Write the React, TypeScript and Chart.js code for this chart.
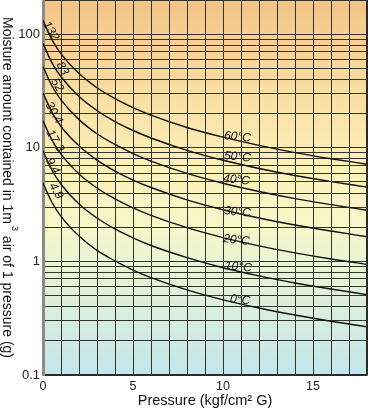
import React, { useEffect, useRef } from "react";
import { Chart, registerables } from "chart.js";

Chart.register(...registerables);

// ---- data ----
const pressure = [0, 0.5, 1, 2, 3, 4, 5, 6, 8, 10, 12, 14, 16, 18];
const t60 = [132, 89, 67.1, 45.0, 33.8, 27.1, 22.6, 19.4, 15.1, 12.4, 10.5, 9.07, 8.01, 7.17];
const t50 = [83, 55.9, 42.2, 28.3, 21.3, 17.0, 14.2, 12.2, 9.5, 7.77, 6.58, 5.7, 5.04, 4.51];
const t40 = [52, 35.0, 26.4, 17.7, 13.3, 10.7, 8.9, 7.64, 5.95, 4.87, 4.12, 3.57, 3.16, 2.82];
const t30 = [30.4, 20.5, 15.4, 10.4, 7.79, 6.24, 5.2, 4.47, 3.48, 2.85, 2.41, 2.09, 1.85, 1.65];
const t20 = [17.3, 11.7, 8.79, 5.89, 4.43, 3.55, 2.96, 2.54, 1.98, 1.62, 1.37, 1.19, 1.05, 0.94];
const t10 = [9.4, 6.34, 4.78, 3.2, 2.41, 1.93, 1.61, 1.38, 1.08, 0.88, 0.745, 0.646, 0.571, 0.51];
const t0 = [4.9, 3.3, 2.49, 1.67, 1.25, 1.01, 0.839, 0.72, 0.561, 0.459, 0.389, 0.337, 0.297, 0.266];
const series = [t60, t50, t40, t30, t20, t10, t0];
const seriesNames = ["60°C", "50°C", "40°C", "30°C", "20°C", "10°C", "0°C"];
const startValueLabels = ["132", "83", "52", "30.4", "17.3", "9.4", "4.9"];

// label anchors (data coordinates)
const nameLabelX = [10.8, 10.8, 10.75, 10.8, 10.75, 10.85, 10.95];
const nameLabelY = [12.45, 8.3, 5.21, 2.72, 1.54, 0.893, 0.457];
const startLabelX = [0.44, 1.08, 0.78, 0.61, 0.67, 0.53, 0.72];
const startLabelY = [106.7, 49.9, 35.7, 20.3, 11.5, 6.92, 4.17];

const xGrid = [0, 1, 2, 3, 4, 5, 6, 7, 8, 9, 10, 11, 12, 13, 14, 15, 16, 17, 18];
const xTickLabels = [0, 5, 10, 15];
const yGrid = [
  0.1, 0.2, 0.3, 0.4, 0.5, 0.6, 0.7, 0.8, 0.9,
  1, 2, 3, 4, 5, 6, 7, 8, 9,
  10, 20, 30, 40, 50, 60, 70, 80, 90,
  100, 200,
];
const yTickLabels = [0.1, 1, 10, 100];

const xTitle = "Pressure (kgf/cm² G)";
const yTitleParts = ["Moisture amount contained in 1m", "3", " air of 1 pressure (g)"];

const FONT = '"Liberation Sans", Arial, sans-serif';

const bgPlugin = {
  id: "bgGradient",
  beforeDraw(chart: any) {
    const { ctx, chartArea: a } = chart;
    const g = ctx.createLinearGradient(0, a.top, 0, a.bottom);
    g.addColorStop(0, "#F3C587");
    g.addColorStop(0.28, "#FAE1A6");
    g.addColorStop(0.45, "#FDF1BA");
    g.addColorStop(0.6, "#F7F7CA");
    g.addColorStop(0.75, "#E5F2D8");
    g.addColorStop(1, "#C3E5EC");
    ctx.save();
    ctx.fillStyle = g;
    ctx.fillRect(a.left, a.top, a.right - a.left, a.bottom - a.top);
    ctx.restore();
  },
};

const textPlugin = {
  id: "curveText",
  afterDatasetsDraw(chart: any) {
    const { ctx, chartArea: a } = chart;
    const xs = chart.scales.x;
    const ys = chart.scales.y;
    ctx.save();
    // right border
    ctx.strokeStyle = "#2a2a22";
    ctx.lineWidth = 2;
    ctx.beginPath();
    ctx.moveTo(a.right, a.top);
    ctx.lineTo(a.right, a.bottom);
    ctx.stroke();
    ctx.fillStyle = "#111";
    ctx.textAlign = "center";
    ctx.textBaseline = "middle";
    // temperature names
    ctx.font = "italic 12px " + FONT;
    seriesNames.forEach((n, i) => {
      const px = xs.getPixelForValue(nameLabelX[i]);
      const py = ys.getPixelForValue(nameLabelY[i]);
      ctx.save();
      ctx.translate(px, py);
      ctx.rotate((6 * Math.PI) / 180);
      ctx.fillText(n, 0, 0);
      ctx.restore();
    });
    // start values
    ctx.font = "italic 12px " + FONT;
    startValueLabels.forEach((t, i) => {
      const px = xs.getPixelForValue(startLabelX[i]);
      const py = ys.getPixelForValue(startLabelY[i]);
      ctx.save();
      ctx.translate(px, py);
      ctx.rotate((60 * Math.PI) / 180);
      ctx.fillText(t, 0, 0);
      ctx.restore();
    });
    ctx.restore();
  },
  afterDraw(chart: any) {
    const { ctx, chartArea: a } = chart;
    ctx.save();
    ctx.translate(7, (a.top + a.bottom) / 2);
    ctx.rotate(Math.PI / 2);
    ctx.fillStyle = "#111";
    ctx.textBaseline = "middle";
    ctx.textAlign = "left";
    const big = "14px " + FONT;
    const small = "9px " + FONT;
    ctx.font = big;
    const w1 = ctx.measureText(yTitleParts[0]).width;
    const w3 = ctx.measureText(yTitleParts[2]).width;
    ctx.font = small;
    const w2 = ctx.measureText(yTitleParts[1]).width + 3;
    const total = w1 + w2 + w3;
    let x = -total / 2;
    ctx.font = big;
    ctx.fillText(yTitleParts[0], x, 0);
    x += w1;
    ctx.font = small;
    ctx.fillText(yTitleParts[1], x + 2, -7);
    x += w2;
    ctx.font = big;
    ctx.fillText(yTitleParts[2], x, 0);
    ctx.restore();
  },
};

export default function App() {
  const ref = useRef<HTMLCanvasElement | null>(null);
  useEffect(() => {
    document.body.style.margin = "0";
    const canvas = ref.current;
    if (!canvas) return;
    const chart = new Chart(canvas, {
      type: "line",
      data: {
        datasets: series.map((s, i) => ({
          label: seriesNames[i],
          data: pressure.map((p, j) => ({ x: p, y: s[j] })),
          borderColor: "#111",
          borderWidth: 1.4,
          pointRadius: 0,
          fill: false,
          cubicInterpolationMode: "monotone" as const,
        })),
      },
      options: {
        animation: false,
        responsive: false,
        layout: { padding: { top: 0, right: 7, left: 0, bottom: 0 } },
        plugins: {
          legend: { display: false },
          tooltip: { enabled: false },
        },
        scales: {
          x: {
            type: "linear",
            min: 0,
            max: 18,
            afterBuildTicks: (s: any) => {
              s.ticks = xGrid.map((v) => ({ value: v }));
            },
            afterFit: (s: any) => {
              s.height = 40;
              s.paddingLeft = 0;
              s.paddingRight = 0;
            },
            ticks: {
              autoSkip: false,
              maxRotation: 0,
              padding: 4,
              color: "#222",
              font: { family: FONT, size: 12.5 },
              callback: (v: any) => (xTickLabels.includes(Number(v)) ? String(v) : ""),
            },
            grid: { color: "#33332a", lineWidth: 1, drawTicks: false },
            border: { display: true, color: "#2a2a22", width: 1.5 },
            title: {
              display: true,
              text: xTitle,
              color: "#111",
              font: { family: FONT, size: 14.5 },
              padding: { top: 0, bottom: 5 },
            },
          },
          y: {
            type: "logarithmic",
            min: 0.1,
            max: 200,
            afterBuildTicks: (s: any) => {
              s.ticks = yGrid.map((v) => ({ value: v }));
            },
            afterFit: (s: any) => {
              s.width = 43;
              s.paddingTop = 0;
              s.paddingBottom = 0;
            },
            ticks: {
              autoSkip: false,
              padding: 3,
              color: "#222",
              font: { family: FONT, size: 13 },
              callback: (v: any) => (yTickLabels.includes(Number(v)) ? String(v) : ""),
            },
            grid: { color: "#33332a", lineWidth: 1, drawTicks: false },
            border: { display: true, color: "#8c8c84", width: 3 },
          },
        },
      },
      plugins: [bgPlugin, textPlugin],
    });
    return () => chart.destroy();
  }, []);
  return (
    <div style={{ width: 374, height: 415 }}>
      <canvas ref={ref} width={374} height={415} style={{ display: "block" }} />
    </div>
  );
}
